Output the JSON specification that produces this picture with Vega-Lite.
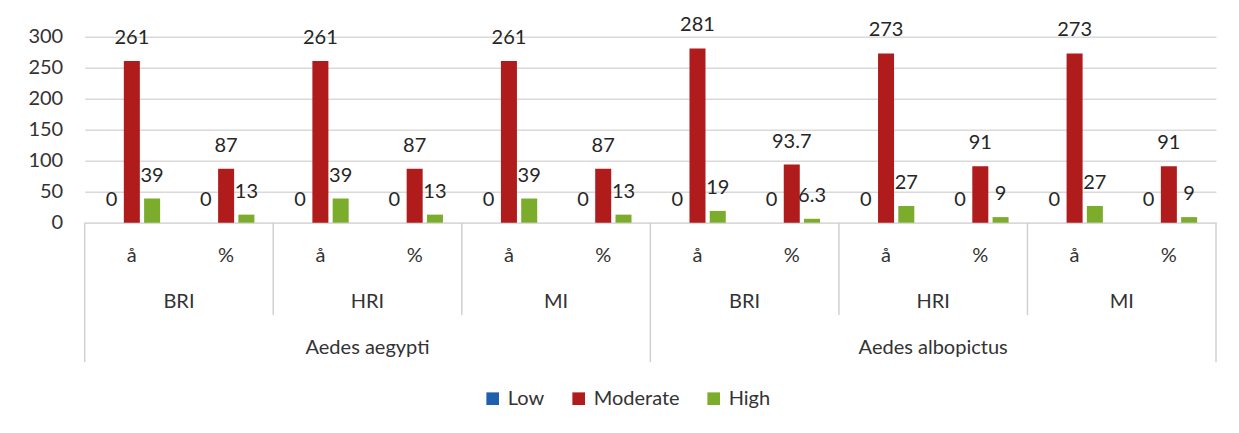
{
  "$schema": "https://vega.github.io/schema/vega-lite/v6.json",
  "autosize": {"type": "none"},
  "width": 1131.3,
  "height": 186,
  "padding": {"left": 84.7, "top": 36.7, "right": 23, "bottom": 210.3},
  "background": "white",
  "config": {
    "font": "Lato",
    "view": {"stroke": null},
    "axis": {"labelFont": "Lato", "labelFontSize": 20, "labelColor": "#333333"}
  },
  "datasets": {
    "bars": [
      {"cat": "aeg|BRI|å", "level": "Low", "value": 0},
      {"cat": "aeg|BRI|å", "level": "Moderate", "value": 261},
      {"cat": "aeg|BRI|å", "level": "High", "value": 39},
      {"cat": "aeg|BRI|%", "level": "Low", "value": 0},
      {"cat": "aeg|BRI|%", "level": "Moderate", "value": 87},
      {"cat": "aeg|BRI|%", "level": "High", "value": 13},
      {"cat": "aeg|HRI|å", "level": "Low", "value": 0},
      {"cat": "aeg|HRI|å", "level": "Moderate", "value": 261},
      {"cat": "aeg|HRI|å", "level": "High", "value": 39},
      {"cat": "aeg|HRI|%", "level": "Low", "value": 0},
      {"cat": "aeg|HRI|%", "level": "Moderate", "value": 87},
      {"cat": "aeg|HRI|%", "level": "High", "value": 13},
      {"cat": "aeg|MI|å", "level": "Low", "value": 0},
      {"cat": "aeg|MI|å", "level": "Moderate", "value": 261},
      {"cat": "aeg|MI|å", "level": "High", "value": 39},
      {"cat": "aeg|MI|%", "level": "Low", "value": 0},
      {"cat": "aeg|MI|%", "level": "Moderate", "value": 87},
      {"cat": "aeg|MI|%", "level": "High", "value": 13},
      {"cat": "alb|BRI|å", "level": "Low", "value": 0},
      {"cat": "alb|BRI|å", "level": "Moderate", "value": 281},
      {"cat": "alb|BRI|å", "level": "High", "value": 19},
      {"cat": "alb|BRI|%", "level": "Low", "value": 0},
      {"cat": "alb|BRI|%", "level": "Moderate", "value": 93.7},
      {"cat": "alb|BRI|%", "level": "High", "value": 6.3},
      {"cat": "alb|HRI|å", "level": "Low", "value": 0},
      {"cat": "alb|HRI|å", "level": "Moderate", "value": 273},
      {"cat": "alb|HRI|å", "level": "High", "value": 27},
      {"cat": "alb|HRI|%", "level": "Low", "value": 0},
      {"cat": "alb|HRI|%", "level": "Moderate", "value": 91},
      {"cat": "alb|HRI|%", "level": "High", "value": 9},
      {"cat": "alb|MI|å", "level": "Low", "value": 0},
      {"cat": "alb|MI|å", "level": "Moderate", "value": 273},
      {"cat": "alb|MI|å", "level": "High", "value": 27},
      {"cat": "alb|MI|%", "level": "Low", "value": 0},
      {"cat": "alb|MI|%", "level": "Moderate", "value": 91},
      {"cat": "alb|MI|%", "level": "High", "value": 9}
    ],
    "groups": [
      {"cat": "aeg|BRI|å", "label": "BRI"},
      {"cat": "aeg|HRI|å", "label": "HRI"},
      {"cat": "aeg|MI|å", "label": "MI"},
      {"cat": "alb|BRI|å", "label": "BRI"},
      {"cat": "alb|HRI|å", "label": "HRI"},
      {"cat": "alb|MI|å", "label": "MI"}
    ],
    "species": [
      {"cat": "aeg|HRI|å", "label": "Aedes aegypti"},
      {"cat": "alb|HRI|å", "label": "Aedes albopictus"}
    ],
    "dividers": [
      {"cat": "aeg|BRI|å", "kind": "outer"},
      {"cat": "aeg|HRI|å", "kind": "inner"},
      {"cat": "aeg|MI|å", "kind": "inner"},
      {"cat": "alb|BRI|å", "kind": "outer"},
      {"cat": "alb|HRI|å", "kind": "inner"},
      {"cat": "alb|MI|å", "kind": "inner"},
      {"cat": "alb|MI|%", "kind": "end"}
    ]
  },
  "layer": [
    {
      "data": {"name": "bars"},
      "mark": {"type": "bar", "clip": false},
      "encoding": {
        "x": {
          "field": "cat", "type": "nominal", "sort": null,
          "scale": {
            "domain": ["aeg|BRI|å","aeg|BRI|%","aeg|HRI|å","aeg|HRI|%","aeg|MI|å","aeg|MI|%","alb|BRI|å","alb|BRI|%","alb|HRI|å","alb|HRI|%","alb|MI|å","alb|MI|%"],
            "paddingInner": 0, "paddingOuter": 0
          },
          "axis": {
            "title": null, "ticks": false, "labelAngle": 0,
            "labelExpr": "split(datum.value, '|')[2]",
            "labelBaseline": "middle", "labelPadding": 33,
            "domainColor": "#d9d9d9", "domainWidth": 1.5
          }
        },
        "xOffset": {
          "field": "level", "type": "nominal",
          "scale": {"domain": ["Low","Moderate","High"], "paddingInner": 0.21, "paddingOuter": 0.93}
        },
        "y": {
          "field": "value", "type": "quantitative",
          "scale": {"domain": [0, 300], "nice": false},
          "axis": {
            "title": null, "values": [0,50,100,150,200,250,300], "domain": false, "ticks": false,
            "labelPadding": 22, "labelOverlap": false, "gridColor": "#d9d9d9", "gridWidth": 1.5
          }
        },
        "color": {
          "field": "level", "type": "nominal",
          "scale": {"domain": ["Low","Moderate","High"], "range": ["#1F5FAE","#B01C1C","#7CAC2C"]},
          "legend": {
            "title": null, "orient": "none", "direction": "horizontal",
            "legendX": 398, "legendY": 352, "padding": 0,
            "symbolType": "square", "symbolSize": 160, "symbolStrokeWidth": 0,
            "labelFontSize": 20, "labelFont": "Lato", "labelColor": "#333333",
            "labelOffset": 5, "columnPadding": 24
          }
        }
      }
    },
    {
      "data": {"name": "bars"},
      "mark": {"type": "text", "fontSize": 20, "color": "#262626", "dy": -23, "baseline": "middle"},
      "encoding": {
        "x": {"field": "cat", "type": "nominal", "sort": null},
        "xOffset": {"field": "level", "type": "nominal"},
        "y": {
          "field": "value", "type": "quantitative",
          "axis": {
            "title": null, "values": [0,50,100,150,200,250,300], "domain": false, "ticks": false,
            "labelPadding": 22, "labelOverlap": false, "gridColor": "#d9d9d9", "gridWidth": 1.5
          }
        },
        "text": {"field": "value", "type": "nominal"}
      }
    },
    {
      "data": {"name": "groups"},
      "mark": {"type": "text", "fontSize": 20, "color": "#333333", "dy": 79, "baseline": "middle"},
      "encoding": {
        "x": {"field": "cat", "type": "nominal", "sort": null, "bandPosition": 1},
        "y": {
          "datum": 0, "type": "quantitative",
          "axis": {
            "title": null, "values": [0,50,100,150,200,250,300], "domain": false, "ticks": false,
            "labelPadding": 22, "labelOverlap": false, "gridColor": "#d9d9d9", "gridWidth": 1.5
          }
        },
        "text": {"field": "label"}
      }
    },
    {
      "data": {"name": "species"},
      "mark": {"type": "text", "fontSize": 20, "color": "#333333", "dy": 125, "baseline": "middle"},
      "encoding": {
        "x": {"field": "cat", "type": "nominal", "sort": null, "bandPosition": 1},
        "y": {
          "datum": 0, "type": "quantitative",
          "axis": {
            "title": null, "values": [0,50,100,150,200,250,300], "domain": false, "ticks": false,
            "labelPadding": 22, "labelOverlap": false, "gridColor": "#d9d9d9", "gridWidth": 1.5
          }
        },
        "text": {"field": "label"}
      }
    },
    {
      "data": {"name": "dividers"},
      "transform": [{"filter": "datum.kind == 'inner'"}],
      "mark": {"type": "rule", "color": "#d0d0d0", "strokeWidth": 1.5, "clip": false},
      "encoding": {
        "x": {"field": "cat", "type": "nominal", "sort": null, "bandPosition": 0},
        "y": {
          "datum": 0, "type": "quantitative",
          "axis": {
            "title": null, "values": [0,50,100,150,200,250,300], "domain": false, "ticks": false,
            "labelPadding": 22, "labelOverlap": false, "gridColor": "#d9d9d9", "gridWidth": 1.5
          }
        },
        "y2": {"datum": -149}
      }
    },
    {
      "data": {"name": "dividers"},
      "transform": [{"filter": "datum.kind == 'outer'"}],
      "mark": {"type": "rule", "color": "#d0d0d0", "strokeWidth": 1.5, "clip": false},
      "encoding": {
        "x": {"field": "cat", "type": "nominal", "sort": null, "bandPosition": 0},
        "y": {
          "datum": 0, "type": "quantitative",
          "axis": {
            "title": null, "values": [0,50,100,150,200,250,300], "domain": false, "ticks": false,
            "labelPadding": 22, "labelOverlap": false, "gridColor": "#d9d9d9", "gridWidth": 1.5
          }
        },
        "y2": {"datum": -225}
      }
    },
    {
      "data": {"name": "dividers"},
      "transform": [{"filter": "datum.kind == 'end'"}],
      "mark": {"type": "rule", "color": "#d0d0d0", "strokeWidth": 1.5, "clip": false},
      "encoding": {
        "x": {"field": "cat", "type": "nominal", "sort": null, "bandPosition": 1},
        "y": {
          "datum": 0, "type": "quantitative",
          "axis": {
            "title": null, "values": [0,50,100,150,200,250,300], "domain": false, "ticks": false,
            "labelPadding": 22, "labelOverlap": false, "gridColor": "#d9d9d9", "gridWidth": 1.5
          }
        },
        "y2": {"datum": -225}
      }
    }
  ]
}
